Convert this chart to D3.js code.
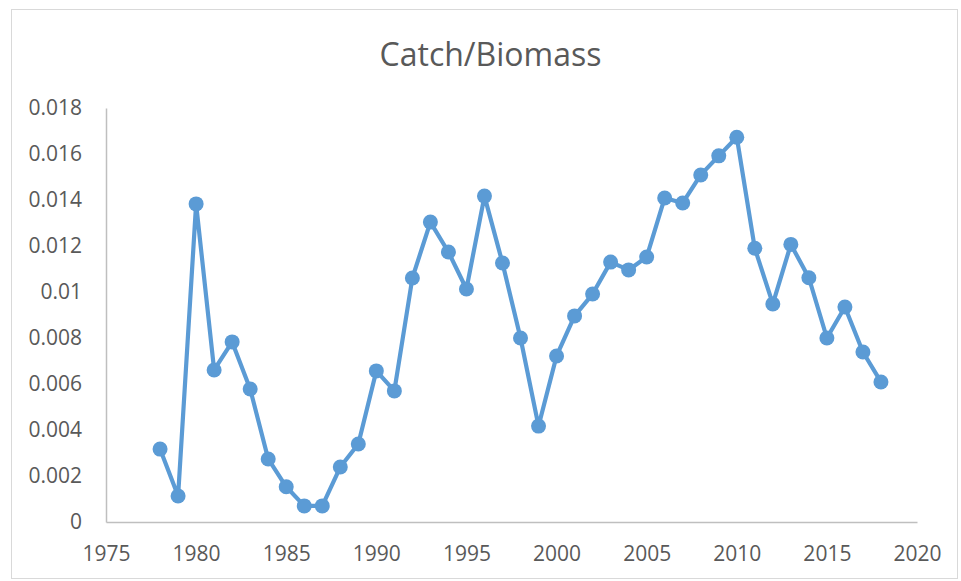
<!DOCTYPE html>
<html>
<head>
<meta charset="utf-8">
<script src="https://cdn.jsdelivr.net/npm/d3@7"></script>
<style>
  html, body { margin: 0; padding: 0; background: #fff; }
  svg { display: block; }
</style>
</head>
<body>
<script>
const titleText = "Catch/Biomass";
const years = [1978,1979,1980,1981,1982,1983,1984,1985,1986,1987,1988,1989,1990,1991,1992,1993,1994,1995,1996,1997,1998,1999,2000,2001,2002,2003,2004,2005,2006,2007,2008,2009,2010,2011,2012,2013,2014,2015,2016,2017,2018];
const ratio = [0.00317,0.00113,0.01383,0.00661,0.00783,0.00578,0.00274,0.00153,0.0007,0.0007,0.00239,0.00339,0.00657,0.0057,0.01061,0.01304,0.01174,0.01013,0.01417,0.01126,0.008,0.00417,0.00722,0.00896,0.00991,0.0113,0.01096,0.01152,0.01409,0.01387,0.01509,0.01592,0.01673,0.0119,0.00948,0.01207,0.01062,0.008,0.00935,0.00739,0.00609];
const xTicks = [1975,1980,1985,1990,1995,2000,2005,2010,2015,2020];
const yTicks = [0,0.002,0.004,0.006,0.008,0.01,0.012,0.014,0.016,0.018];

const W = 961, H = 581;
const svg = d3.select("body").append("svg").attr("width", W).attr("height", H);
const font = "'Open Sans', 'Noto Sans', sans-serif";

svg.append("rect").attr("x", 11.5).attr("y", 9.5).attr("width", 946).attr("height", 569)
  .attr("fill", "#fff").attr("stroke", "#d9d9d9").attr("stroke-width", 1);

const x = d3.scaleLinear().domain([1975, 2020]).range([106, 917]);
const y = d3.scaleLinear().domain([0, 0.018]).range([522, 108]);

svg.append("text").attr("x", 490.5).attr("y", 66).attr("text-anchor", "middle")
  .attr("font-family", font).attr("font-size", 32).attr("fill", "#595959").text(titleText);

const xAxis = svg.append("g").attr("transform", "translate(0,522)")
  .call(d3.axisBottom(x).tickValues(xTicks).tickFormat(d3.format("d")).tickSize(0).tickPadding(24));
xAxis.select(".domain").attr("stroke", "#bfbfbf").attr("stroke-width", 1.5);
xAxis.selectAll("text").attr("font-family", font).attr("font-size", 21).attr("fill", "#595959");

const yAxis = svg.append("g").attr("transform", "translate(106,0)")
  .call(d3.axisLeft(y).tickValues(yTicks).tickFormat(d => d === 0 ? "0" : String(+d.toFixed(3))).tickSize(0).tickPadding(24));
yAxis.select(".domain").attr("stroke", "#bfbfbf").attr("stroke-width", 1.5);
yAxis.selectAll("text").attr("font-family", font).attr("font-size", 21).attr("fill", "#595959");

const data = years.map((yr, i) => ({ yr, v: ratio[i] }));
const color = "#5b9bd5";

svg.append("path").datum(data)
  .attr("fill", "none").attr("stroke", color).attr("stroke-width", 4.2)
  .attr("stroke-linejoin", "round")
  .attr("d", d3.line().x(d => x(d.yr)).y(d => y(d.v)));

svg.append("g").selectAll("circle").data(data).join("circle")
  .attr("cx", d => x(d.yr)).attr("cy", d => y(d.v)).attr("r", 7.5)
  .attr("fill", color);
</script>
</body>
</html>
